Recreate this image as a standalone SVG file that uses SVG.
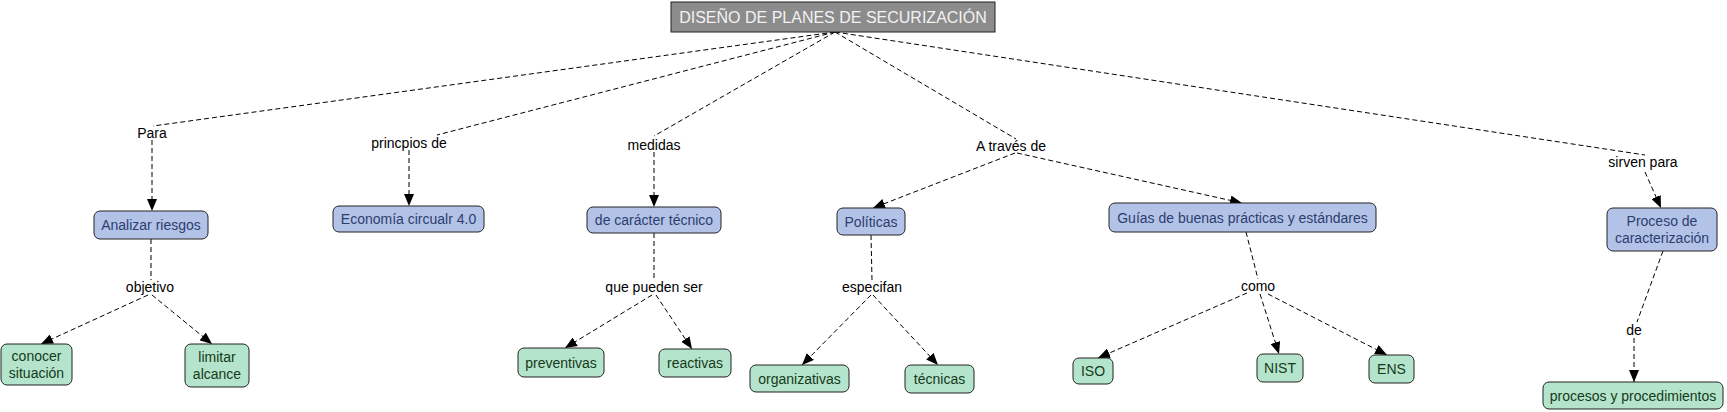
<svg xmlns="http://www.w3.org/2000/svg" width="1727" height="412" viewBox="0 0 1727 412">
<style>
text{font-family:"Liberation Sans",Arial,sans-serif;font-size:14px;text-anchor:middle}
.root rect{fill:#8c8c8c;stroke:#222;stroke-width:1}
.root text{fill:#f2f2f2;font-size:16px}
.blue rect{fill:#b3c3e8;stroke:#222;stroke-width:1}
.blue text{fill:#2d3d6e}
.green rect{fill:#b4e4cc;stroke:#222;stroke-width:1}
.green text{fill:#163a1a}
.lbl text{fill:#000}
#connectors path{fill:none;stroke:#000;stroke-width:1;stroke-dasharray:5,3}
#connectors path.a{marker-end:url(#arr)}
</style>
<defs>
<marker id="arr" markerUnits="userSpaceOnUse" markerWidth="12" markerHeight="10" refX="12" refY="5" orient="auto">
<path d="M0,0 L12,5 L0,10 z" fill="#000"/>
</marker>
</defs>
<rect width="1727" height="412" fill="#fff"/>
<g id="connectors">
<path d="M835,32 L153,126"/>
<path class="a" d="M152,140 L152,211"/>
<path d="M835,32 L437,135"/>
<path class="a" d="M409,150 L409,206"/>
<path d="M835,32 L654,136"/>
<path class="a" d="M654,152 L654,207"/>
<path d="M835,32 L1016,139"/>
<path class="a" d="M1015,153 L873,208"/>
<path class="a" d="M1017,153 L1242,203"/>
<path d="M835,32 L1645,155"/>
<path class="a" d="M1645,172 L1661,208"/>
<path d="M1663,251 L1637,322"/>
<path class="a" d="M1634,338 L1634,382"/>
<path d="M151,239 L151,280"/>
<path class="a" d="M148,295 L41,344"/>
<path class="a" d="M152,295 L212,344"/>
<path d="M654,233 L654,280"/>
<path class="a" d="M652,295 L565,348"/>
<path class="a" d="M656,295 L692,349"/>
<path d="M871,235 L872,280"/>
<path class="a" d="M871,295 L802,365"/>
<path class="a" d="M873,295 L938,365"/>
<path d="M1246,232 L1258,279"/>
<path class="a" d="M1247,293 L1098,358"/>
<path class="a" d="M1260,294 L1279,354"/>
<path class="a" d="M1268,294 L1387,355"/>
</g>
<g id="n-root" class="root"><rect x="671" y="2" width="324" height="30"/><text x="833" y="23">DISEÑO DE PLANES DE SECURIZACIÓN</text></g>
<g id="l-para" class="lbl"><text x="152" y="138">Para</text></g>
<g id="l-princ" class="lbl"><text x="409" y="148">princpios de</text></g>
<g id="l-medidas" class="lbl"><text x="654" y="150">medidas</text></g>
<g id="l-traves" class="lbl"><text x="1011" y="151">A través de</text></g>
<g id="l-sirven" class="lbl"><text x="1643" y="167">sirven para</text></g>
<g id="l-objetivo" class="lbl"><text x="150" y="292">objetivo</text></g>
<g id="l-pueden" class="lbl"><text x="654" y="292">que pueden ser</text></g>
<g id="l-especifan" class="lbl"><text x="872" y="292">especifan</text></g>
<g id="l-como" class="lbl"><text x="1258" y="291">como</text></g>
<g id="l-de" class="lbl"><text x="1634" y="335">de</text></g>
<g id="n-analizar" class="blue"><rect x="94" y="211" width="114" height="28" rx="6"/><text x="151" y="230">Analizar riesgos</text></g>
<g id="n-economia" class="blue"><rect x="333" y="206" width="151" height="26" rx="6"/><text x="408.5" y="224">Economía circualr 4.0</text></g>
<g id="n-caracter" class="blue"><rect x="587" y="207" width="134" height="26" rx="6"/><text x="654" y="225">de carácter técnico</text></g>
<g id="n-politicas" class="blue"><rect x="837" y="208" width="68" height="27" rx="6"/><text x="871" y="226.5">Políticas</text></g>
<g id="n-guias" class="blue"><rect x="1109" y="203" width="267" height="29" rx="6"/><text x="1242.5" y="222.5">Guías de buenas prácticas y estándares</text></g>
<g id="n-proceso" class="blue"><rect x="1607" y="208" width="110" height="43" rx="6"/><text x="1662" y="226">Proceso de</text><text x="1662" y="243">caracterización</text></g>
<g id="n-conocer" class="green"><rect x="1" y="344" width="71" height="41" rx="6"/><text x="36.5" y="361">conocer</text><text x="36.5" y="378">situación</text></g>
<g id="n-limitar" class="green"><rect x="185" y="344" width="64" height="43" rx="6"/><text x="217" y="362">limitar</text><text x="217" y="379">alcance</text></g>
<g id="n-preventivas" class="green"><rect x="518" y="348" width="86" height="29" rx="6"/><text x="561" y="367.5">preventivas</text></g>
<g id="n-reactivas" class="green"><rect x="659" y="349" width="72" height="28" rx="6"/><text x="695" y="368">reactivas</text></g>
<g id="n-organizativas" class="green"><rect x="750" y="365" width="99" height="27" rx="6"/><text x="799.5" y="383.5">organizativas</text></g>
<g id="n-tecnicas" class="green"><rect x="905" y="365" width="69" height="28" rx="6"/><text x="939.5" y="384">técnicas</text></g>
<g id="n-iso" class="green"><rect x="1073" y="358" width="40" height="26" rx="6"/><text x="1093" y="376">ISO</text></g>
<g id="n-nist" class="green"><rect x="1257" y="354" width="46" height="28" rx="6"/><text x="1280" y="373">NIST</text></g>
<g id="n-ens" class="green"><rect x="1369" y="355" width="45" height="28" rx="6"/><text x="1391.5" y="374">ENS</text></g>
<g id="n-procesos" class="green"><rect x="1543" y="382" width="180" height="27" rx="6"/><text x="1633" y="400.5">procesos y procedimientos</text></g>
</svg>
